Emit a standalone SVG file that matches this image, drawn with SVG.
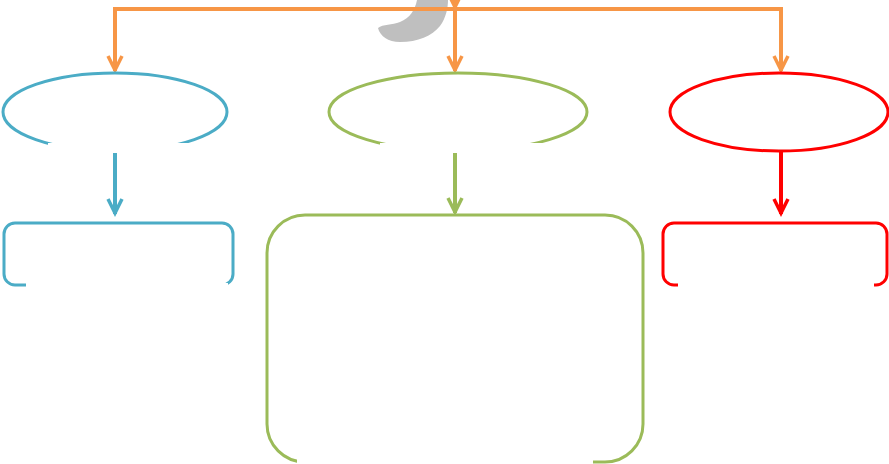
<svg xmlns="http://www.w3.org/2000/svg" width="889" height="464" viewBox="0 0 889 464">
<style>
.conn{fill:none;stroke-width:4;stroke-linecap:butt}
.o{stroke:#F79646}
.b{stroke:#4BACC6}
.g{stroke:#9BBB59}
.r{stroke:#FF0000}
.shape{fill:#FFFFFF;stroke-width:3}
.mask{fill:#FFFFFF;stroke:none}
</style>
<defs>
<marker id="aO" markerUnits="userSpaceOnUse" markerWidth="20" markerHeight="20" viewBox="-16 -10 20 20" refX="0" refY="0" orient="auto" overflow="visible"><path d="M-15,-7 L-1,0 L-15,7" fill="none" stroke="#F79646" stroke-width="3.5"/></marker>
<marker id="aB" markerUnits="userSpaceOnUse" markerWidth="20" markerHeight="20" viewBox="-16 -10 20 20" refX="0" refY="0" orient="auto" overflow="visible"><path d="M-15,-7 L-1,0 L-15,7" fill="none" stroke="#4BACC6" stroke-width="3.5"/></marker>
<marker id="aG" markerUnits="userSpaceOnUse" markerWidth="20" markerHeight="20" viewBox="-16 -10 20 20" refX="0" refY="0" orient="auto" overflow="visible"><path d="M-15,-7 L-1,0 L-15,7" fill="none" stroke="#9BBB59" stroke-width="3.5"/></marker>
<marker id="aR" markerUnits="userSpaceOnUse" markerWidth="20" markerHeight="20" viewBox="-16 -10 20 20" refX="0" refY="0" orient="auto" overflow="visible"><path d="M-15,-7 L-1,0 L-15,7" fill="none" stroke="#FF0000" stroke-width="3.5"/></marker>
</defs>
<rect width="889" height="464" fill="#FFFFFF"/>
<path d="M417,0 C415,10 410,18 400,22 C392,25 383,24 378,28 C380,36 388,42 400,42 C418,42 432,36 440,26 C446,18 448,8 448,0 Z" fill="#BFBFBF"/>
<g id="connectors">
<path class="conn o" d="M113,9 H783"/>
<path class="conn o" d="M455,-10 V8" marker-end="url(#aO)"/>
<path class="conn o" d="M115,9 V71" marker-end="url(#aO)"/>
<path class="conn o" d="M455,9 V71" marker-end="url(#aO)"/>
<path class="conn o" d="M781,9 V71" marker-end="url(#aO)"/>
<path class="conn b" d="M115,152 V214" marker-end="url(#aB)"/>
<path class="conn g" d="M455,152 V213" marker-end="url(#aG)"/>
<path class="conn r" d="M781,152 V214" marker-end="url(#aR)"/>
</g>
<g id="node-blue-ellipse">
<ellipse class="shape b" cx="115" cy="112" rx="112" ry="39"/>
<rect class="mask" x="48" y="143" width="142" height="10"/>
</g>
<g id="node-green-ellipse">
<ellipse class="shape g" cx="458" cy="112" rx="129" ry="39"/>
<rect class="mask" x="380" y="143" width="167" height="10"/>
</g>
<g id="node-red-ellipse">
<ellipse class="shape r" cx="779" cy="112" rx="109" ry="39"/>
</g>
<g id="node-blue-box">
<rect class="shape b" x="4" y="223" width="229" height="62" rx="11"/>
<rect class="mask" x="26" y="283" width="202" height="10"/>
</g>
<g id="node-green-box">
<rect class="shape g" x="267" y="215" width="376" height="247" rx="38"/>
<rect class="mask" x="297" y="459" width="296" height="8"/>
</g>
<g id="node-red-box">
<rect class="shape r" x="663" y="223" width="224" height="62" rx="11"/>
<rect class="mask" x="678" y="283" width="196" height="10"/>
</g>
</svg>
